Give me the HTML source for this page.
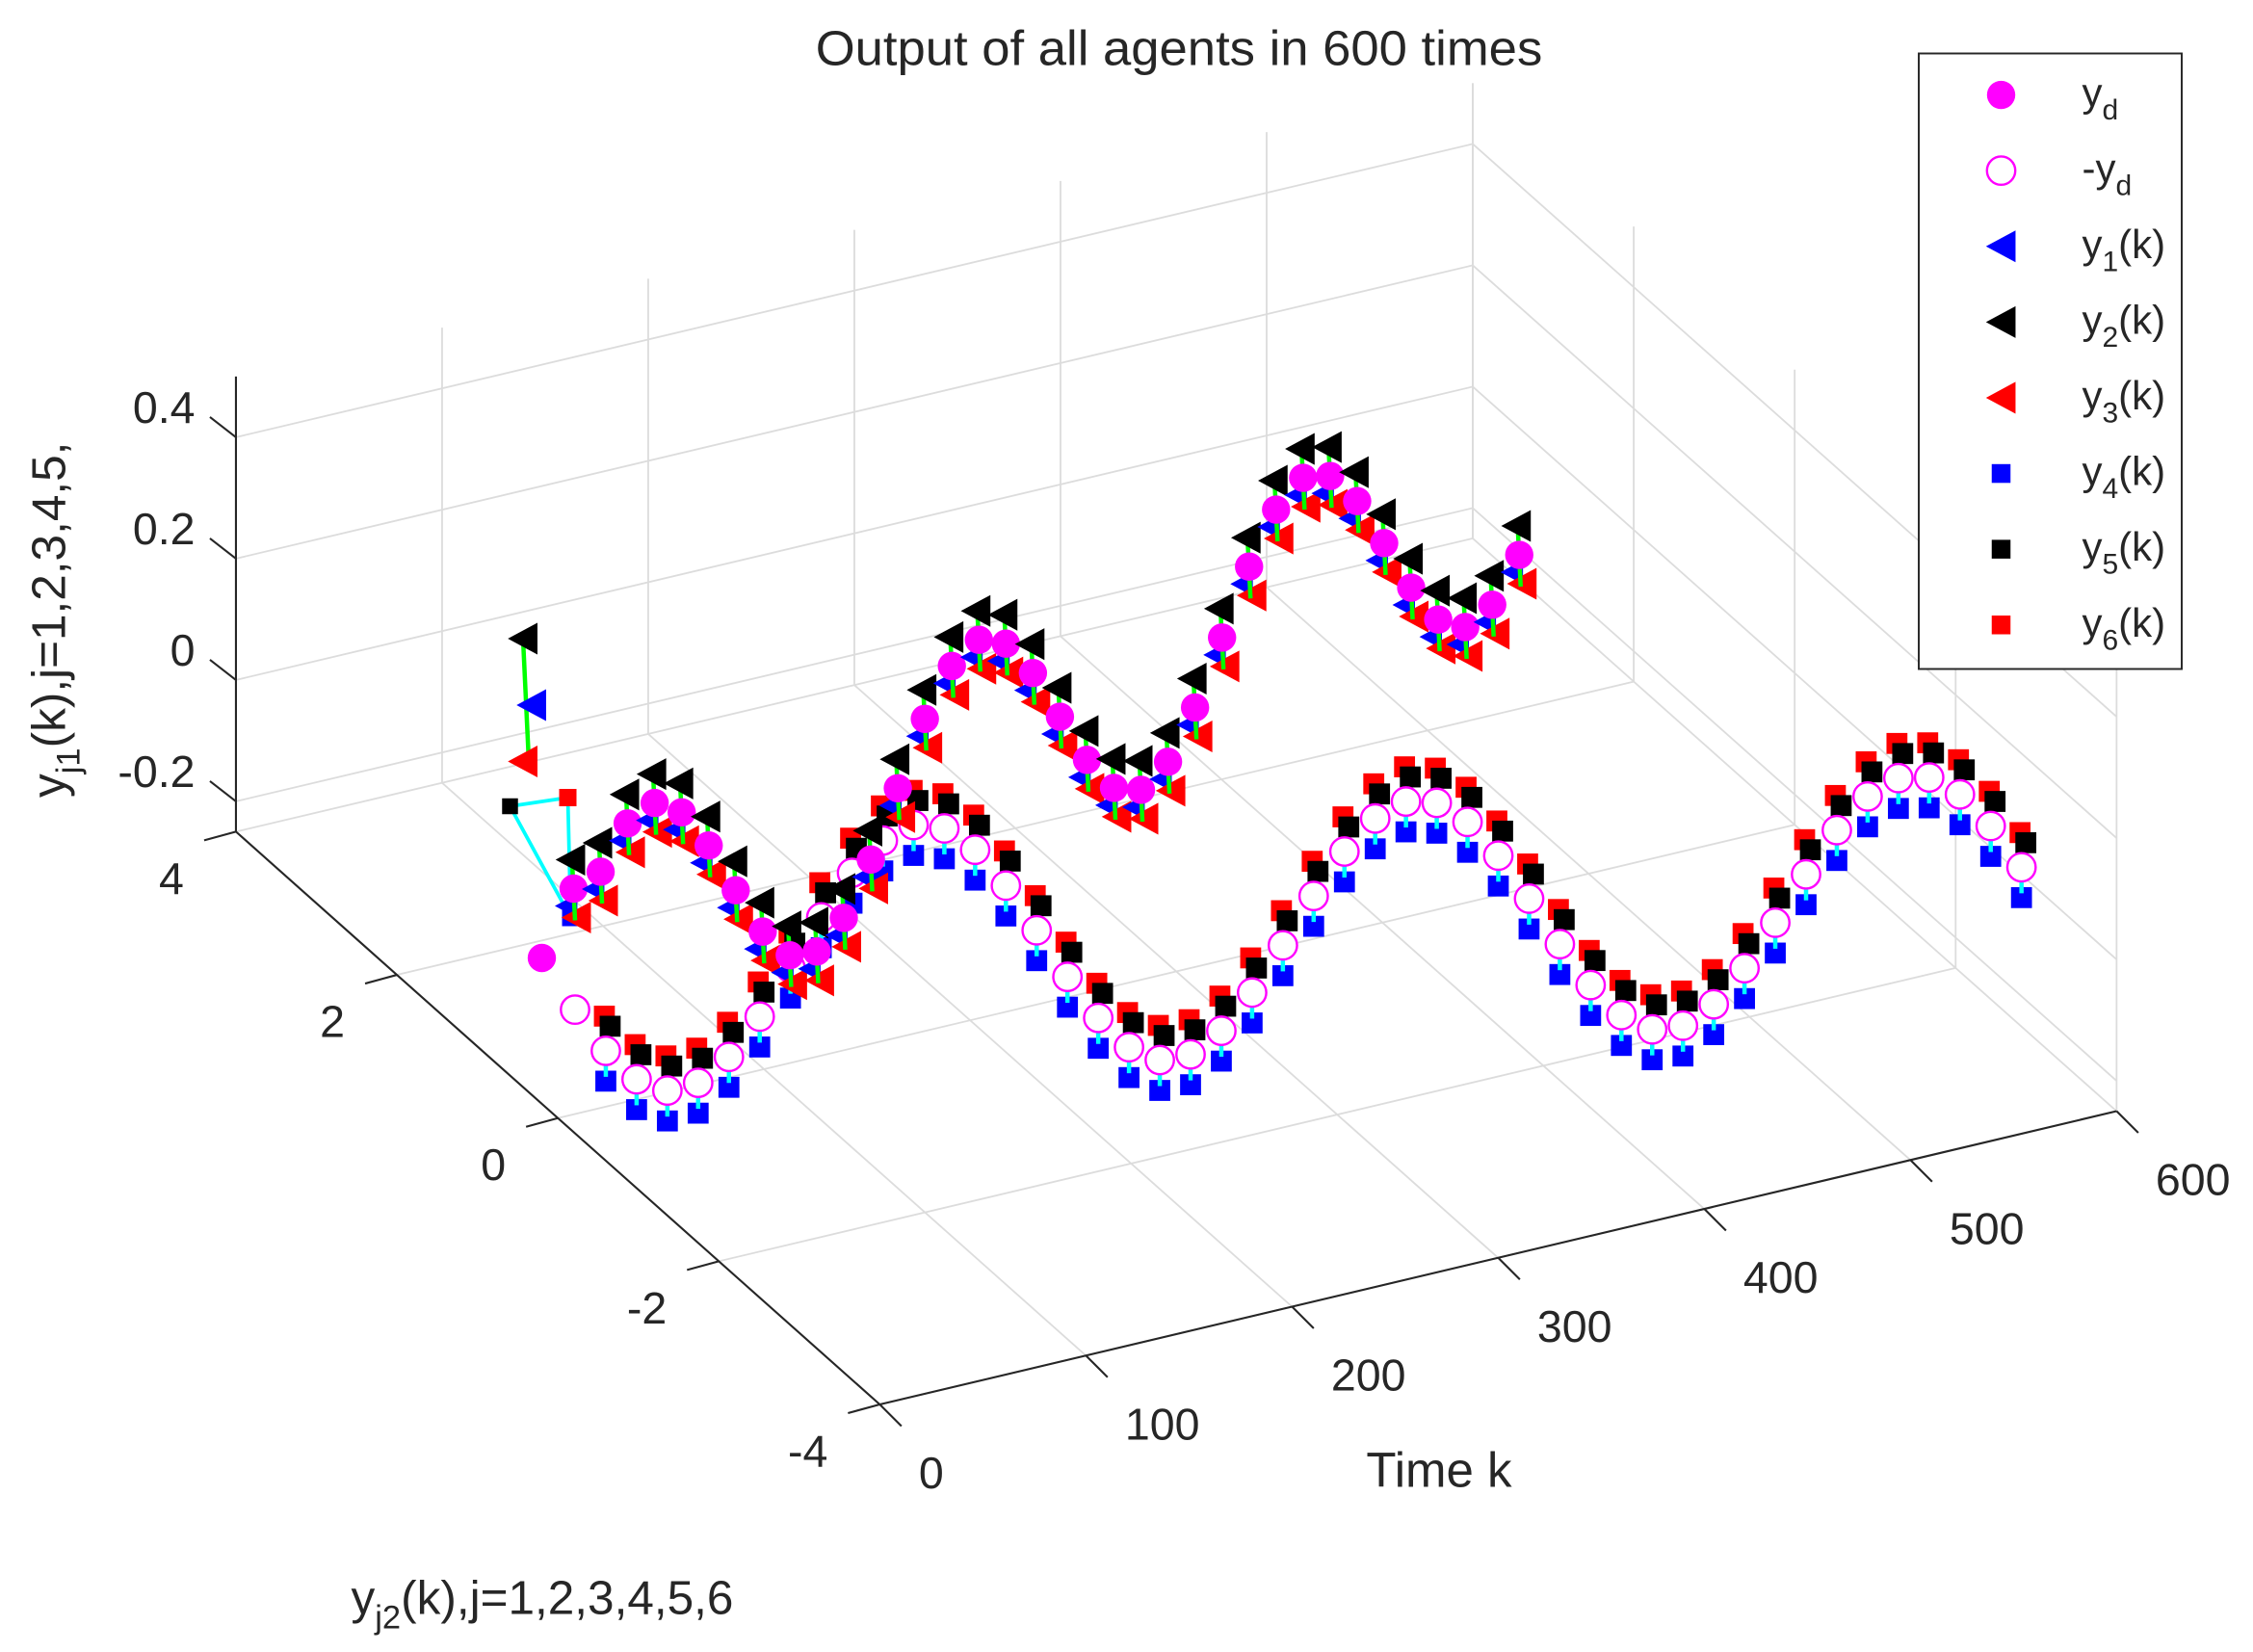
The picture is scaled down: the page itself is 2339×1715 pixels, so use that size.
<!DOCTYPE html>
<html><head><meta charset="utf-8">
<style>
html,body{margin:0;padding:0;background:#fff;}
svg{display:block;}
text{font-family:"Liberation Sans",Arial,sans-serif;fill:#262626;}
</style></head>
<body>
<svg id="s" width="2339" height="1715" viewBox="0 0 1559.33 1143.33" preserveAspectRatio="none" xmlns="http://www.w3.org/2000/svg">
<rect width="1560" height="1144" fill="#fff"/>
<g id="grid" stroke="#dcdcdc" stroke-width="1.2" fill="none"></g>
<g id="axes" stroke="#262626" stroke-width="1.4" fill="none"></g>
<g id="lower"></g>
<g id="upper"></g>
<g id="labels" font-size="31"></g>
<g id="legend"></g>
</svg>
<script>
var NS="http://www.w3.org/2000/svg";
function el(p,t,a){var e=document.createElementNS(NS,t);for(var k in a)e.setAttribute(k,a[k]);p.appendChild(e);return e;}
var ZMIN=-0.25,ZT=0.5;
function P(x,y2,z){return [608.9+1.4267*x-55.7*(y2+4), 972-0.3383*x-49.55*(y2+4)-420*(z-ZMIN)];}
var g=document.getElementById('grid'),ax=document.getElementById('axes'),lb=document.getElementById('labels');
function L(p,a,b){el(p,'line',{x1:a[0],y1:a[1],x2:b[0],y2:b[1]});}
function T(x,y,s,anchor,fs,extra){var a={x:x,y:y,'text-anchor':anchor||'middle'};if(fs)a['font-size']=fs;for(var k in extra)a[k]=extra[k];var t=el(lb,'text',a);t.textContent=s;return t;}
// back wall (y2=4)
for(var x=0;x<=600;x+=100)L(g,P(x,4,ZMIN),P(x,4,ZT));
[-0.2,0,0.2,0.4].forEach(function(z){L(g,P(0,4,z),P(600,4,z));L(g,P(600,4,z),P(600,-4,z));});
for(var y=-4;y<=4;y+=2)L(g,P(600,y,ZMIN),P(600,y,ZT));
for(var x=0;x<=600;x+=100)L(g,P(x,4,ZMIN),P(x,-4,ZMIN));
for(var y=-4;y<=4;y+=2)L(g,P(0,y,ZMIN),P(600,y,ZMIN));
// axes
L(ax,P(0,4,ZMIN),P(0,4,ZT));
L(ax,P(0,4,ZMIN),P(0,-4,ZMIN));
L(ax,P(0,-4,ZMIN),P(600,-4,ZMIN));
for(var x=0;x<=600;x+=100){var a=P(x,-4,ZMIN);L(ax,a,[a[0]+15,a[1]+15]);T(a[0]+27,a[1]+58,String(x),'start');}
for(var y=-4;y<=4;y+=2){var a=P(0,y,ZMIN);L(ax,a,[a[0]-22,a[1]+6]);T(a[0]-36,a[1]+43,String(y),'end');}
[[-0.2,'-0.2'],[0,'0'],[0.2,'0.2'],[0.4,'0.4']].forEach(function(z){var a=P(0,4,z[0]);L(ax,a,[a[0]-18,a[1]-14]);T(135,a[1]-10,z[1],'end');});
// title & axis labels
T(816,45,'Output of all agents in 600 times','middle',34,{textLength:503,lengthAdjust:'spacingAndGlyphs'});
T(996,1029,'Time k','middle',34);
var yl=el(lb,'text',{x:243,y:1117,'font-size':33});
yl.appendChild(document.createTextNode('y'));
var s1=el(yl,'tspan',{'font-size':23,dy:10});s1.textContent='j2';
var s2=el(yl,'tspan',{dy:-10});s2.textContent='(k),j=1,2,3,4,5,6';
var zl=el(lb,'text',{transform:'translate(45,552) rotate(-90)','font-size':33});
zl.appendChild(document.createTextNode('y'));
var s3=el(zl,'tspan',{'font-size':23,dy:10});s3.textContent='j1';
var s4=el(zl,'tspan',{dy:-10});s4.textContent='(k),j=1,2,3,4,5,';
// markers
function sq(p,x,y,c,s){s=s||14.5;el(p,'rect',{x:x-s/2,y:y-s/2,width:s,height:s,fill:c});}
function tri(p,x,y,c,s){s=s||10.5;el(p,'polygon',{points:(x-s)+','+y+' '+(x+s*0.95)+','+(y-s*1.05)+' '+(x+s*0.95)+','+(y+s*1.05),fill:c});}
function circ(p,x,y,filled){el(p,'circle',{cx:x,cy:y,r:9.8,fill:filled?'#ff00ff':'#fff','stroke':'#ff00ff','stroke-width':filled?0:1.6});}
var lo=document.getElementById('lower'),up=document.getElementById('upper');
el(lo,'polyline',{points:'353,558 393,552 395,635 353,558',fill:'none',stroke:'#00ffff','stroke-width':2.5});
el(lo,'line',{x1:362,y1:442,x2:366,y2:527,stroke:'#00ff00','stroke-width':3});
tri(lo,368,488,'#0000ff');tri(lo,362,442,'#000');tri(lo,362,527,'#ff0000');
sq(lo,353,558,'#000',11);sq(lo,393,552,'#ff0000',12);sq(lo,395,635,'#0000ff',12);
circ(lo,375,663,true);
// lower set
for(var i=0;i<48;i++){
  var x=398+i*21.3;
  var A=88-0.006*(x-466);
  var y=662-0.055*(x-553)+A*Math.cos(2*Math.PI*(x-466)/343);
  if(i==0){circ(lo,x,y,false);continue;}
  sq(lo,x-1,y-24,'#ff0000');sq(lo,x+3,y-17,'#000');
  sq(lo,x,y+21,'#0000ff');
  el(lo,'line',{x1:x,y1:y,x2:x,y2:y+18,stroke:'#00ffff','stroke-width':3});
  circ(lo,x,y,false);
}
// upper set
for(var i=0;i<36;i++){
  var x=397+i*18.7;
  var y=493-0.5*(x-737)+80*Math.cos(2*Math.PI*(x-790)/228);
  if(i==0)y=615;
  tri(up,x-5,y+12,'#0000ff',8);
  tri(up,x+2,y+20,'#ff0000');
  el(up,'line',{x1:x-1,y1:y-18,x2:x+1,y2:y+22,stroke:'#00ff00','stroke-width':3});
  circ(up,x,y,true);
  tri(up,x-2,y-20,'#000');
}
// legend
var lg=document.getElementById('legend');
el(lg,'rect',{x:1328,y:37,width:182,height:426,fill:'#fff',stroke:'#262626','stroke-width':1.3});
var ys=[];for(var i=0;i<8;i++)ys.push(65.7+i*52.4);
var labs=[['y','d',''],['-y','d',''],['y','1','(k)'],['y','2','(k)'],['y','3','(k)'],['y','4','(k)'],['y','5','(k)'],['y','6','(k)']];
var mx=1385;
circ(lg,mx,ys[0],true);circ(lg,mx,ys[1],false);
tri(lg,mx,ys[2],'#0000ff');tri(lg,mx,ys[3],'#000');tri(lg,mx,ys[4],'#ff0000');
sq(lg,mx,ys[5],'#0000ff',13);sq(lg,mx,ys[6],'#000',13);sq(lg,mx,ys[7],'#ff0000',13);
labs.forEach(function(l,i){var t=el(lg,'text',{x:1441,y:ys[i]+8,'font-size':28});
 t.appendChild(document.createTextNode(l[0]));
 var s=el(t,'tspan',{'font-size':20,dy:9});s.textContent=l[1];
 if(l[2]){var s2=el(t,'tspan',{dy:-9});s2.textContent=l[2];}
});
</script>
</body></html>
